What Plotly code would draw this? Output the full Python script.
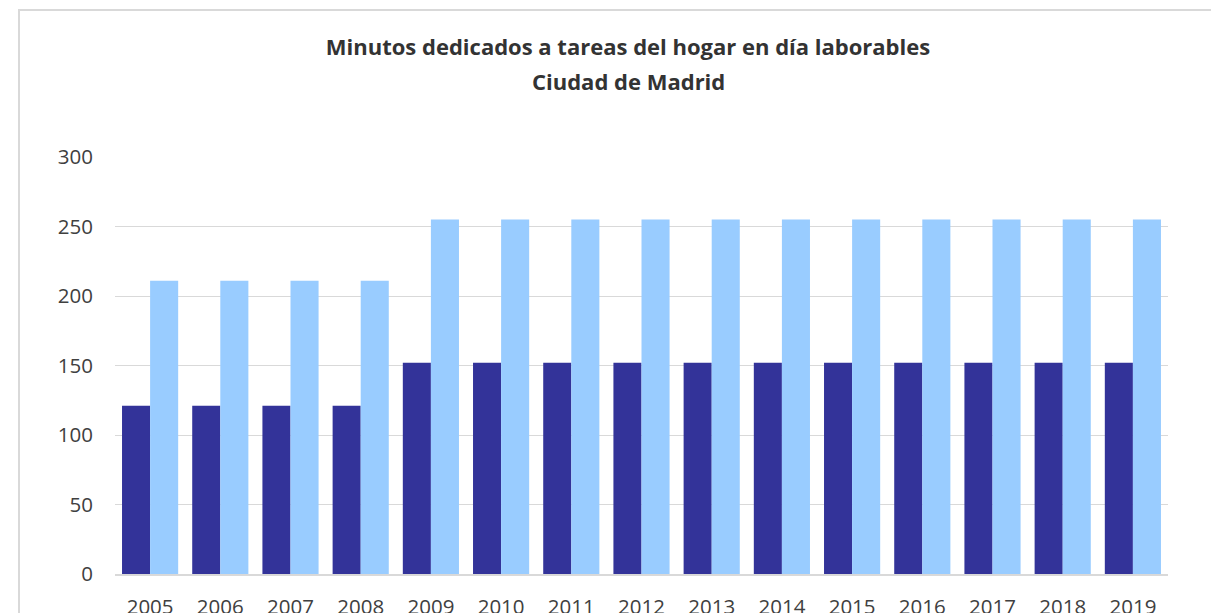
import plotly.graph_objects as go

years = [str(y) for y in range(2005, 2020)]
hombres = [121, 121, 121, 121, 152, 152, 152, 152, 152, 152, 152, 152, 152, 152, 152]
mujeres = [211, 211, 211, 211, 255, 255, 255, 255, 255, 255, 255, 255, 255, 255, 255]
y_ticks = [0, 50, 100, 150, 200, 250, 300]

OFF = 8  # default page body margin
W, H = 1219 - OFF, 613 - OFF
L, R, T, B = 115 - OFF, 51, 157 - OFF, 39
pw, ph = W - L - R, H - T - B

fig = go.Figure()
fig.add_trace(go.Bar(x=years, y=hombres, name="Hombres", marker=dict(color="#333399", line=dict(width=0))))
fig.add_trace(go.Bar(x=years, y=mujeres, name="Mujeres", marker=dict(color="#99CCFF", line=dict(width=0))))

title_font = dict(family="Open Sans", size=22, color="#333333")
cx = (628 - OFF - L) / pw

fig.update_layout(
    width=W, height=H,
    margin=dict(l=L, r=R, t=T, b=B, pad=0, autoexpand=False),
    paper_bgcolor="white", plot_bgcolor="white",
    barmode="group", bargap=0.2, bargroupgap=0,
    showlegend=False,
    font=dict(family="Open Sans", color="#404040"),
    title=dict(
        text="<b>Minutos dedicados a tareas del hogar en día laborables</b>",
        x=(628 - OFF) / W, xanchor="center", y=1 - (47 - OFF) / H, yanchor="middle",
        font=title_font,
    ),
    annotations=[dict(
        text="<b>Ciudad de Madrid</b>", xref="paper", yref="paper",
        x=cx, y=1 + (T - (81 - OFF)) / ph, xanchor="center", yanchor="middle",
        showarrow=False, font=title_font,
    )],
    xaxis=dict(
        showgrid=False, showline=True, linecolor="#d9d9d9", linewidth=2,
        ticks="", tickfont=dict(size=20.5, color="#404040"), ticklabelstandoff=13,
        automargin=False,
    ),
    yaxis=dict(
        range=[0, 300], tickvals=y_ticks, showgrid=True, gridcolor="#d9d9d9", gridwidth=1.3,
        zeroline=False, showline=False, ticks="",
        tickfont=dict(size=20.5, color="#404040"), ticklabelstandoff=21,
        automargin=False,
    ),
    shapes=[dict(
        type="rect", xref="paper", yref="paper",
        x0=(19 - OFF - L) / pw, x1=(W + 20 - L) / pw,
        y0=-(B + 20) / ph, y1=1 + (T - (10 - OFF)) / ph,
        line=dict(color="#d9d9d9", width=2), fillcolor="rgba(0,0,0,0)", layer="below",
    )],
)

fig.write_html("out.html")
